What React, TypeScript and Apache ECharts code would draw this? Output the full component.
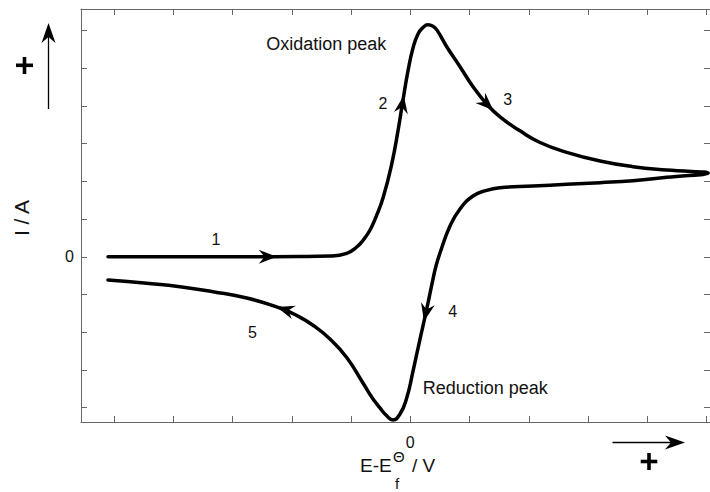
import React, { useEffect, useRef } from "react";
import * as echarts from "echarts";

const FONT = '"Liberation Sans", Arial, Helvetica, sans-serif';
const INK = "#111111";
const AXIS = "#666666";

// Forward (anodic) sweep: potential E - Ef (V) and current (a.u.)
const forwardE = [
  -0.5104, -0.3888, -0.2762, -0.1862, -0.1356, -0.1074, -0.0905, -0.0794, -0.068,
  -0.0579, -0.0456, -0.0314, -0.0208, -0.0123, -0.0039, 0.0046, 0.013, 0.0214,
  0.0299, 0.0383, 0.0451, 0.0615, 0.0839, 0.1059, 0.129, 0.1515, 0.1852, 0.219,
  0.2641, 0.3203, 0.376, 0.4329, 0.503,
];
const forwardI = [
  0, 0, 0, 0.005, 0.02, 0.093, 0.26, 0.445, 0.71,
  1.06, 1.585, 2.46, 3.34, 4.16, 4.93, 5.54, 5.91, 6.08,
  6.15, 6.11, 6.01, 5.57, 5.04, 4.51, 4.05, 3.71, 3.34, 3.03,
  2.77, 2.54, 2.39, 2.3, 2.22,
];

// Reverse (cathodic) sweep, listed in scan order
const reverseE = [
  0.4329, 0.376, 0.3203, 0.2641, 0.2072, 0.1515, 0.129, 0.1059, 0.0839, 0.067,
  0.0501, 0.0434, 0.0383, 0.0277, 0.0164, 0.0046, -0.0061, -0.0174, -0.0292,
  -0.041, -0.0512, -0.0647, -0.0799, -0.1074, -0.1356, -0.1643, -0.1918, -0.22,
  -0.2762, -0.3331, -0.3888, -0.4451, -0.5104,
];
const reverseI = [
  2.108, 2.018, 1.965, 1.922, 1.877, 1.832, 1.763, 1.612, 1.267, 0.817,
  0.1, -0.244, -0.589, -1.384, -2.18, -3.03, -3.744, -4.168, -4.327,
  -4.194, -4.008, -3.73, -3.346, -2.67, -2.18, -1.816, -1.556, -1.357,
  -1.092, -0.925, -0.793, -0.703, -0.615,
];

// Axis ticks and the values that get a label
const xTicks = [-0.5, -0.4, -0.3, -0.2, -0.1, 0, 0.1, 0.2, 0.3, 0.4, 0.5];
const yTicks = [-4, -3, -2, -1, 0, 1, 2, 3, 4, 5, 6];
const xLabelValues = [0];
const yLabelValues = [0];

// Direction arrows placed on the sweep at these potentials
const arrowE = [-0.2256, -0.011, 0.1401, 0.0231, -0.2256];
const arrowBranch = ["forward", "forward", "forward", "reverse", "reverse"];

// Annotations in data coordinates
const noteText = ["1", "2", "3", "4", "5", "Oxidation peak", "Reduction peak"];
const noteE = [-0.328, -0.046, 0.1644, 0.0716, -0.2665, -0.2434, 0.021];
const noteI = [0.47, 4.06, 4.16, -1.44, -2.0, 5.64, -3.48];

function interp(es: number[], is: number[], e: number): number {
  for (let k = 0; k < es.length - 1; k++) {
    const a = es[k];
    const b = es[k + 1];
    if ((e - a) * (e - b) <= 0 && a !== b) {
      const t = (e - a) / (b - a);
      return is[k] + t * (is[k + 1] - is[k]);
    }
  }
  return is[is.length - 1];
}

export default function App() {
  const ref = useRef<HTMLDivElement>(null);

  useEffect(() => {
    if (!ref.current) return;
    const chart = echarts.init(ref.current, null, { renderer: "svg" });

    const curve: number[][] = [];
    forwardE.forEach((e, k) => curve.push([e, forwardI[k]]));
    reverseE.forEach((e, k) => curve.push([e, reverseI[k]]));

    const fullRevE = [forwardE[forwardE.length - 1], ...reverseE];
    const fullRevI = [forwardI[forwardI.length - 1], ...reverseI];

    const arrows = arrowE.map((e, k) => {
      const fwd = arrowBranch[k] === "forward";
      const es = fwd ? forwardE : fullRevE;
      const is = fwd ? forwardI : fullRevI;
      const back = fwd ? e - 0.006 : e + 0.006;
      return [e, interp(es, is, e), back, interp(es, is, back)];
    });

    const notes = noteE.map((e, k) => [e, noteI[k]]);

    const hiddenLabels = { show: false };
    const axisLine = { show: true, onZero: false, lineStyle: { color: AXIS, width: 1 } };
    const tick = (values: number[]) => ({
      show: true,
      inside: true,
      length: 6,
      customValues: values,
      lineStyle: { color: AXIS, width: 1 },
    });
    const label = (values: number[], margin: number) => ({
      show: true,
      customValues: values,
      margin,
      color: INK,
      fontSize: 16,
      fontFamily: FONT,
      formatter: (v: number) => String(v),
    });

    chart.setOption({
      animation: false,
      backgroundColor: "#ffffff",
      grid: { left: 81, top: 9, width: 629, height: 413, containLabel: false },
      xAxis: [
        {
          type: "value",
          position: "bottom",
          min: -0.556,
          max: 0.506,
          axisLine,
          axisTick: tick(xTicks),
          axisLabel: label(xLabelValues, 12),
          splitLine: { show: false },
        },
        {
          type: "value",
          position: "top",
          min: -0.556,
          max: 0.506,
          axisLine,
          axisTick: tick(xTicks),
          axisLabel: hiddenLabels,
          splitLine: { show: false },
        },
      ],
      yAxis: [
        {
          type: "value",
          position: "left",
          min: -4.38,
          max: 6.57,
          axisLine,
          axisTick: tick(yTicks),
          axisLabel: label(yLabelValues, 7),
          splitLine: { show: false },
        },
        {
          type: "value",
          position: "right",
          min: -4.38,
          max: 6.57,
          axisLine,
          axisTick: tick(yTicks),
          axisLabel: hiddenLabels,
          splitLine: { show: false },
        },
      ],
      series: [
        {
          type: "line",
          data: curve,
          xAxisIndex: 0,
          yAxisIndex: 0,
          showSymbol: false,
          symbol: "none",
          smooth: 0.5,
          lineStyle: { color: "#000000", width: 3.5, join: "round", cap: "round" },
          z: 3,
        },
        {
          type: "custom",
          xAxisIndex: 0,
          yAxisIndex: 0,
          data: arrows,
          z: 4,
          renderItem: (_params: any, api: any) => {
            const tip = api.coord([api.value(0), api.value(1)]);
            const back = api.coord([api.value(2), api.value(3)]);
            let dx = tip[0] - back[0];
            let dy = tip[1] - back[1];
            const len = Math.hypot(dx, dy) || 1;
            dx /= len;
            dy /= len;
            const nx = -dy;
            const ny = dx;
            const L = 18;
            const W = 7;
            const N = 12;
            return {
              type: "polygon",
              shape: {
                points: [
                  [tip[0], tip[1]],
                  [tip[0] - L * dx + W * nx, tip[1] - L * dy + W * ny],
                  [tip[0] - N * dx, tip[1] - N * dy],
                  [tip[0] - L * dx - W * nx, tip[1] - L * dy - W * ny],
                ],
              },
              style: { fill: "#000000" },
            };
          },
        },
        {
          type: "custom",
          xAxisIndex: 0,
          yAxisIndex: 0,
          data: notes,
          z: 5,
          renderItem: (params: any, api: any) => {
            const p = api.coord([api.value(0), api.value(1)]);
            const text = noteText[params.dataIndex];
            const long = text.length > 1;
            return {
              type: "text",
              x: p[0],
              y: p[1],
              style: {
                text,
                fill: INK,
                font: `${long ? 18 : 16}px ${FONT}`,
                align: long ? "left" : "center",
                verticalAlign: "middle",
              },
            };
          },
        },
      ],
      graphic: [
        // current axis title
        {
          type: "text",
          x: 21.5,
          y: 218,
          rotation: Math.PI / 2,
          style: {
            text: "I / A",
            fill: INK,
            font: `21px ${FONT}`,
            align: "center",
            verticalAlign: "middle",
          },
        },
        // potential axis title: E - E_f^Θ / V
        {
          type: "text",
          x: 360,
          y: 465,
          style: { text: "E-E", fill: INK, font: `19px ${FONT}`, align: "left", verticalAlign: "middle" },
        },
        {
          type: "text",
          x: 393,
          y: 456,
          style: { text: "Θ", fill: INK, font: `15px ${FONT}`, align: "left", verticalAlign: "middle" },
        },
        {
          type: "text",
          x: 395,
          y: 483,
          style: { text: "f", fill: INK, font: `15px ${FONT}`, align: "left", verticalAlign: "middle" },
        },
        {
          type: "text",
          x: 412,
          y: 465,
          style: { text: "/ V", fill: INK, font: `19px ${FONT}`, align: "left", verticalAlign: "middle" },
        },
        // increasing-current arrow and sign
        {
          type: "line",
          shape: { x1: 48.5, y1: 109, x2: 48.5, y2: 34 },
          style: { stroke: "#000000", lineWidth: 1.3 },
        },
        {
          type: "polygon",
          shape: { points: [[48.5, 23], [41.5, 43], [48.5, 37], [55.5, 43]] },
          style: { fill: "#000000" },
        },
        { type: "rect", shape: { x: 16, y: 63.5, width: 17, height: 3.6 }, style: { fill: "#000000" } },
        { type: "rect", shape: { x: 22.7, y: 57, width: 3.6, height: 17 }, style: { fill: "#000000" } },
        // increasing-potential arrow and sign
        {
          type: "line",
          shape: { x1: 612.5, y1: 442.5, x2: 675, y2: 442.5 },
          style: { stroke: "#000000", lineWidth: 1.3 },
        },
        {
          type: "polygon",
          shape: { points: [[685, 442.5], [665, 435.5], [671, 442.5], [665, 449.5]] },
          style: { fill: "#000000" },
        },
        { type: "rect", shape: { x: 640.7, y: 459.7, width: 16.6, height: 3.6 }, style: { fill: "#000000" } },
        { type: "rect", shape: { x: 647.2, y: 453, width: 3.6, height: 17 }, style: { fill: "#000000" } },
      ],
    });

    return () => chart.dispose();
  }, []);

  return (
    <div
      ref={ref}
      style={{ position: "fixed", left: 0, top: 0, width: 710, height: 492, background: "#ffffff" }}
    />
  );
}
